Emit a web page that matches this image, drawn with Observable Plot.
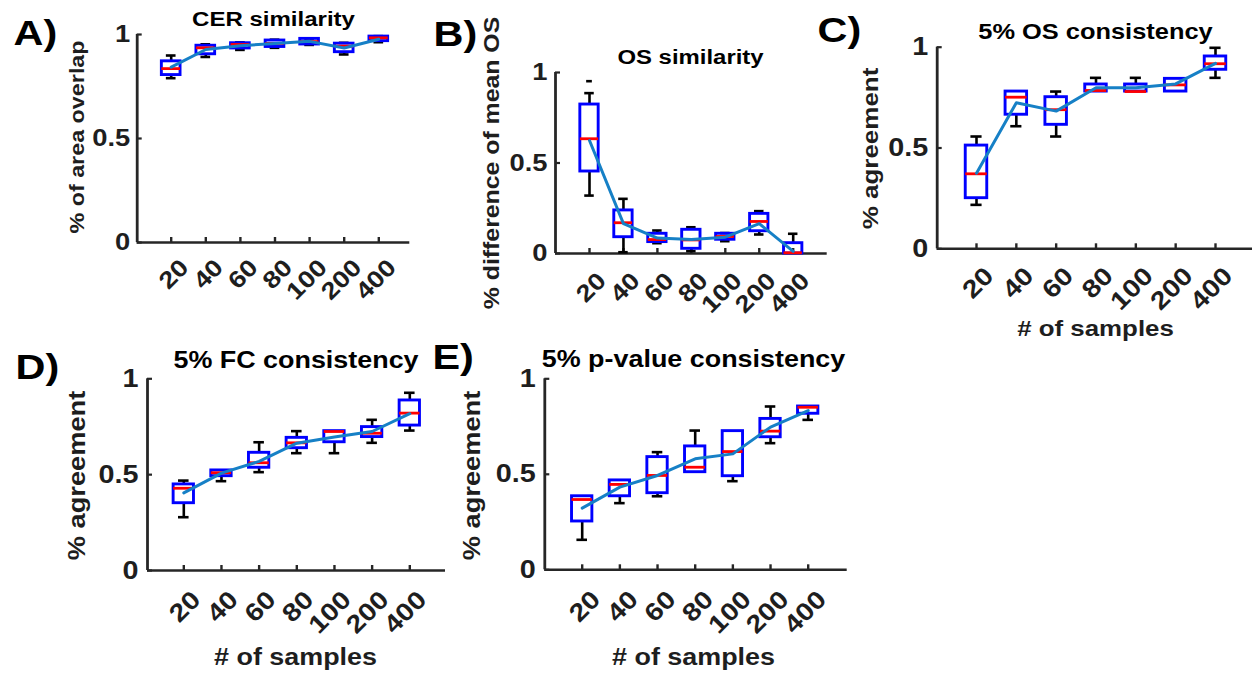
<!DOCTYPE html>
<html>
<head>
<meta charset="utf-8">
<script src="https://cdn.jsdelivr.net/npm/d3@7"></script>
<script src="https://cdn.jsdelivr.net/npm/@observablehq/plot@0.6"></script>
<style>
  html, body { margin: 0; padding: 0; background: #fff; }
  #fig { position: absolute; left: 0; top: 0; width: 1252px; height: 673px; }
  #fig svg { position: absolute; left: 0; top: 0; }
</style>
</head>
<body>
<div id="fig"></div>
<script>
// ---- data -------------------------------------------------------------
const sampleSizes = ["20", "40", "60", "80", "100", "200", "400"];
const yTicks = [0, 0.5, 1];
const yTickLabels = ["0", "0.5", "1"];

// A) CER similarity
const cerQ1   = [0.805, 0.905, 0.933, 0.940, 0.952, 0.915, 0.968];
const cerMed  = [0.836, 0.936, 0.952, 0.957, 0.966, 0.944, 0.984];
const cerQ3   = [0.871, 0.946, 0.958, 0.971, 0.979, 0.956, 0.990];
const cerLo   = [0.790, 0.892, 0.926, 0.936, 0.950, 0.904, 0.963];
const cerHi   = [0.899, 0.953, 0.962, 0.975, 0.981, 0.960, 0.992];
const cerMean = [0.843, 0.928, 0.946, 0.957, 0.967, 0.935, 0.977];

// B) OS similarity
const osQ1   = [0.453, 0.090, 0.063, 0.026, 0.076, 0.123, 0.000];
const osMed  = [0.634, 0.170, 0.077, 0.075, 0.094, 0.177, 0.004];
const osQ3   = [0.823, 0.238, 0.109, 0.131, 0.109, 0.219, 0.057];
const osLo   = [0.320, 0.007, 0.057, 0.013, 0.068, 0.105, 0.000];
const osHi   = [0.886, 0.302, 0.127, 0.145, 0.113, 0.234, 0.109];
const osMean = [0.624, 0.165, 0.085, 0.077, 0.090, 0.165, 0.012];
const osOutliers = [{size: "20", value: 0.952}];

// C) 5% OS consistency
const osConsQ1   = [0.251, 0.665, 0.615, 0.780, 0.780, 0.780, 0.888];
const osConsMed  = [0.372, 0.752, 0.690, 0.785, 0.780, 0.813, 0.918];
const osConsQ3   = [0.512, 0.780, 0.752, 0.815, 0.815, 0.843, 0.954];
const osConsLo   = [0.218, 0.608, 0.557, 0.780, 0.780, 0.780, 0.848];
const osConsHi   = [0.557, 0.780, 0.780, 0.848, 0.848, 0.843, 0.997];
const osConsMean = [0.375, 0.724, 0.683, 0.799, 0.799, 0.818, 0.920];

// D) 5% FC consistency
const fcConsQ1   = [0.351, 0.492, 0.536, 0.638, 0.669, 0.696, 0.756];
const fcConsMed  = [0.429, 0.510, 0.562, 0.666, 0.725, 0.716, 0.821];
const fcConsQ3   = [0.449, 0.522, 0.614, 0.692, 0.727, 0.748, 0.887];
const fcConsLo   = [0.278, 0.466, 0.513, 0.612, 0.612, 0.666, 0.730];
const fcConsHi   = [0.469, 0.522, 0.669, 0.727, 0.727, 0.786, 0.927];
const fcConsMean = [0.405, 0.508, 0.569, 0.664, 0.696, 0.725, 0.818];

// E) 5% p-value consistency
const pConsQ1   = [0.253, 0.385, 0.401, 0.511, 0.490, 0.694, 0.817];
const pConsMed  = [0.368, 0.447, 0.494, 0.537, 0.619, 0.726, 0.851];
const pConsQ3   = [0.385, 0.468, 0.590, 0.646, 0.726, 0.790, 0.855];
const pConsLo   = [0.157, 0.349, 0.385, 0.511, 0.464, 0.663, 0.785];
const pConsHi   = [0.385, 0.468, 0.616, 0.729, 0.726, 0.855, 0.855];
const pConsMean = [0.323, 0.433, 0.494, 0.581, 0.607, 0.747, 0.834];

// ---- layout -----------------------------------------------------------
const W = 1252, H = 673;
const TS = 1.15;            // glyphs are drawn wide along their baseline
const fig = document.getElementById("fig");

const AXIS = "#262626", TEXT = "#1e1e1e";
const BOX = "#0000ff", MEDIAN = "#ff0000", WHISKER = "#000000", MEANLINE = "#1680c6";
const FONT = "'Liberation Sans', Arial, Helvetica, sans-serif";

// widen every label along its own baseline, keeping its anchor point fixed
function widenText(svg) {
  for (const t of svg.querySelectorAll("text")) {
    const tr = t.getAttribute("transform");
    if (tr) t.setAttribute("transform", `${tr} scale(${TS},1)`);
    else {
      const x = +t.getAttribute("x") || 0, y = +t.getAttribute("y") || 0;
      t.setAttribute("transform", `translate(${x},${y}) scale(${TS},1) translate(${-x},${-y})`);
    }
  }
  return svg;
}

function panel(cfg, s) {
  const sp = (cfg.t7 - cfg.t1) / 6;                 // px per category
  const x0 = 1 - (cfg.t1 - cfg.L) / sp;
  const x1 = 1 + (cfg.R - cfg.t1) / sp;
  const rows = sampleSizes.map((label, i) => ({
    i: i + 1, label,
    q1: s.q1[i], med: s.med[i], q3: s.q3[i], lo: s.lo[i], hi: s.hi[i], mean: s.mean[i]
  }));
  const bw = 0.27, cw = 0.14, eps = 1e-3;
  const upper = rows.filter(d => d.hi > d.q3 + eps);
  const lower = rows.filter(d => d.lo < d.q1 - eps);
  const outl = (s.outliers || []).map(o => ({i: sampleSizes.indexOf(o.size) + 1, v: o.value}));
  const cx = (cfg.L + cfg.R) / 2, cy = (cfg.T + cfg.B) / 2;
  const bold = {fontWeight: "bold", fill: TEXT, lineAnchor: "middle"};

  const marks = [
    // axes (box off): left and bottom lines with inward ticks
    Plot.ruleX([x0], {stroke: AXIS, strokeWidth: 2.8}),
    Plot.ruleY([0], {stroke: AXIS, strokeWidth: 2.6}),
    Plot.ruleY(yTicks, {x1: x0, x2: x0 + 5 / sp, stroke: AXIS, strokeWidth: 2.2}),
    Plot.ruleX(rows, {x: "i", y1: 0, y2: 5 / (cfg.B - cfg.T), stroke: AXIS, strokeWidth: 2.4}),
    // whiskers
    Plot.ruleX(upper, {x: "i", y1: "q3", y2: "hi", stroke: WHISKER, strokeWidth: 2.6}),
    Plot.ruleY(upper, {y: "hi", x1: d => d.i - cw, x2: d => d.i + cw, stroke: WHISKER, strokeWidth: 2.6}),
    Plot.ruleX(lower, {x: "i", y1: "lo", y2: "q1", stroke: WHISKER, strokeWidth: 2.6}),
    Plot.ruleY(lower, {y: "lo", x1: d => d.i - cw, x2: d => d.i + cw, stroke: WHISKER, strokeWidth: 2.6}),
    Plot.ruleY(outl, {y: "v", x1: d => d.i - cw * 0.6, x2: d => d.i + cw * 0.6, stroke: WHISKER, strokeWidth: 2.6}),
    // boxes and medians
    Plot.rect(rows, {x1: d => d.i - bw, x2: d => d.i + bw, y1: "q1", y2: "q3", fill: "none", stroke: BOX, strokeWidth: 2.9}),
    Plot.ruleY(rows, {y: "med", x1: d => d.i - bw, x2: d => d.i + bw, stroke: MEDIAN, strokeWidth: 2.8}),
    // mean trend
    Plot.line(rows, {x: "i", y: "mean", stroke: MEANLINE, strokeWidth: 3}),
    // tick labels
    Plot.text(yTickLabels, {y: (d, i) => yTicks[i], frameAnchor: "left", textAnchor: "end",
      dx: -cfg.ytGap, fontSize: cfg.tickFs, ...bold}),
    Plot.text(rows, {x: "i", text: "label", frameAnchor: "bottom", rotate: -45, textAnchor: "end",
      dx: cfg.xtDx, dy: cfg.xtDy, fontSize: cfg.tickFs, ...bold}),
    // title, axis labels, panel letter
    Plot.text([cfg.title], {frameAnchor: "top", textAnchor: "middle", dx: cfg.titleX - cx,
      dy: cfg.titleY - cfg.T, fontSize: cfg.titleFs, ...bold, fill: "#000"}),
    Plot.text([cfg.ylabel], {frameAnchor: "left", textAnchor: "middle", rotate: -90,
      dx: cfg.ylabelX - cfg.L, dy: cfg.ylabelY - cy, fontSize: cfg.ylabelFs, ...bold}),
    Plot.text([cfg.letter], {frameAnchor: "top-left", textAnchor: "start", dx: cfg.letterX - cfg.L,
      dy: cfg.letterY - cfg.T, fontSize: 36, ...bold, fill: "#000"})
  ];
  if (cfg.xlabel) {
    marks.push(Plot.text([cfg.xlabel], {frameAnchor: "bottom", textAnchor: "middle",
      dx: cfg.xlabelX - cx, dy: cfg.xlabelY - cfg.B, fontSize: cfg.xlabelFs, ...bold}));
  }

  return widenText(Plot.plot({
    width: W, height: H,
    marginLeft: cfg.L, marginRight: W - cfg.R,
    marginTop: cfg.T, marginBottom: H - cfg.B,
    x: {type: "linear", domain: [x0, x1], axis: null},
    y: {type: "linear", domain: [0, 1], axis: null},
    style: {background: "transparent", overflow: "visible", fontFamily: FONT},
    marks
  }));
}

const panels = [
  [{letter: "A)", title: "CER similarity", ylabel: "% of area overlap",
    L: 136.7, R: 409.3, T: 34, B: 242, t1: 170.7, t7: 378.3,
    titleX: 273, titleY: 19.2, titleFs: 20.9, ylabelX: 76.7, ylabelY: 136.5, ylabelFs: 20.3,
    letterX: 13, letterY: 32.5, tickFs: 23.8, ytGap: 7, xtDx: 13.4, xtDy: 21},
   {q1: cerQ1, med: cerMed, q3: cerQ3, lo: cerLo, hi: cerHi, mean: cerMean}],
  [{letter: "B)", title: "OS similarity", ylabel: "% difference of mean OS",
    L: 555, R: 826.7, T: 72, B: 253, t1: 589, t7: 792.7,
    titleX: 690, titleY: 56.7, titleFs: 20.8, ylabelX: 491.7, ylabelY: 162.5, ylabelFs: 21.6,
    letterX: 433, letterY: 33.5, tickFs: 23.8, ytGap: 8, xtDx: 12.5, xtDy: 23.4},
   {q1: osQ1, med: osMed, q3: osQ3, lo: osLo, hi: osHi, mean: osMean, outliers: osOutliers}],
  [{letter: "C)", title: "5% OS consistency", ylabel: "% agreement", xlabel: "# of samples",
    L: 936.7, R: 1252, T: 46.7, B: 248.3, t1: 976, t7: 1215,
    titleX: 1095, titleY: 31.2, titleFs: 22.1, ylabelX: 870, ylabelY: 148, ylabelFs: 22.6,
    xlabelX: 1095, xlabelY: 328.5, xlabelFs: 22.5,
    letterX: 817, letterY: 30, tickFs: 25, ytGap: 9, xtDx: 13, xtDy: 23},
   {q1: osConsQ1, med: osConsMed, q3: osConsQ3, lo: osConsLo, hi: osConsHi, mean: osConsMean}],
  [{letter: "D)", title: "5% FC consistency", ylabel: "% agreement", xlabel: "# of samples",
    L: 147, R: 445, T: 378.3, B: 570, t1: 183.3, t7: 409.3,
    titleX: 295.5, titleY: 360, titleFs: 23.4, ylabelX: 77, ylabelY: 475, ylabelFs: 23.7,
    xlabelX: 295, xlabelY: 657.5, xlabelFs: 23.4,
    letterX: 15, letterY: 366.5, tickFs: 25, ytGap: 9, xtDx: 12.5, xtDy: 25},
   {q1: fcConsQ1, med: fcConsMed, q3: fcConsQ3, lo: fcConsLo, hi: fcConsHi, mean: fcConsMean}],
  [{letter: "E)", title: "5% p-value consistency", ylabel: "% agreement", xlabel: "# of samples",
    L: 544.3, R: 846.7, T: 378.3, B: 569.3, t1: 581.7, t7: 807.7,
    titleX: 693, titleY: 359, titleFs: 23.4, ylabelX: 471.7, ylabelY: 475, ylabelFs: 23.7,
    xlabelX: 693, xlabelY: 657.5, xlabelFs: 23.4,
    letterX: 432, letterY: 356.5, tickFs: 25, ytGap: 9, xtDx: 14, xtDy: 25.5},
   {q1: pConsQ1, med: pConsMed, q3: pConsQ3, lo: pConsLo, hi: pConsHi, mean: pConsMean}]
];

for (const [cfg, stats] of panels) fig.appendChild(panel(cfg, stats));
</script>
</body>
</html>
